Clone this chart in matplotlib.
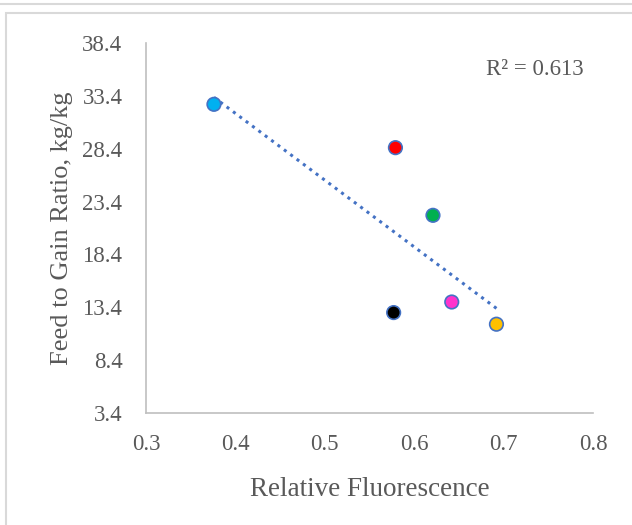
import numpy as np
import matplotlib
matplotlib.use("Agg")
import matplotlib.pyplot as plt
from matplotlib.patches import Rectangle
from matplotlib.lines import Line2D

# ---------------- Data ----------------
fluorescence = [0.376, 0.579, 0.621, 0.577, 0.642, 0.692]
feed_to_gain = [32.6, 28.5, 22.1, 12.9, 13.9, 11.8]
point_colors = ["#00B0F0", "#FF0000", "#00B050", "#000000", "#FF33CC", "#FFC000"]
x_ticks = [0.3, 0.4, 0.5, 0.6, 0.7, 0.8]
y_ticks = [3.4, 8.4, 13.4, 18.4, 23.4, 28.4, 33.4, 38.4]

plt.rcParams["font.family"] = ["Liberation Serif", "DejaVu Serif"]
grey_text = "#595959"

fig = plt.figure(figsize=(6.32, 5.25), dpi=100)

# chart frames (clipped like the reference)
fig.add_artist(Line2D([0, 1], [1 - 4 / 525, 1 - 4 / 525], color="#D9D9D9", lw=1.5,
                      transform=fig.transFigure))
fig.add_artist(Rectangle((6 / 632, -0.1), 1.2, 1 - 13 / 525 + 0.1, fill=False,
                         edgecolor="#D9D9D9", lw=1.5, transform=fig.transFigure))

ax = fig.add_axes([146 / 632, 1 - 413 / 525, 447 / 632, 370 / 525])

# trendline
slope, intercept = np.polyfit(fluorescence, feed_to_gain, 1)
xs = np.array([min(fluorescence), max(fluorescence)])
ax.plot(xs, slope * xs + intercept, linestyle=(0, (1, 1.6)), color="#4472C4",
        lw=2.2, zorder=2)

ax.scatter(fluorescence, feed_to_gain, s=95, c=point_colors, edgecolors="#4472C4",
           linewidths=1.2, zorder=3)

ax.text(0.735, 35.9, "R\u00b2 = 0.613", fontsize=16.5, color=grey_text, ha="center",
        va="center")

ax.set_xlim(0.3, 0.8)
ax.set_ylim(3.4, 38.4)
ax.set_xticks(x_ticks)
ax.set_yticks(y_ticks)
ax.set_xticklabels([f"{v:.1f}" for v in x_ticks])
ax.set_yticklabels([f"{v:.1f}" for v in y_ticks])
ax.tick_params(length=0, labelsize=16.5, colors=grey_text)
ax.tick_params(axis="x", pad=15)
ax.tick_params(axis="y", pad=17)

for side in ["top", "right"]:
    ax.spines[side].set_visible(False)
for side in ["left", "bottom"]:
    ax.spines[side].set_color("#BFBFBF")
    ax.spines[side].set_linewidth(1.2)

ax.set_xlabel("Relative Fluorescence", fontsize=19.5, color=grey_text, labelpad=16)
ax.set_ylabel("Feed to Gain Ratio, kg/kg", fontsize=19, color=grey_text, labelpad=7)

fig.savefig("out.png", dpi=100)
